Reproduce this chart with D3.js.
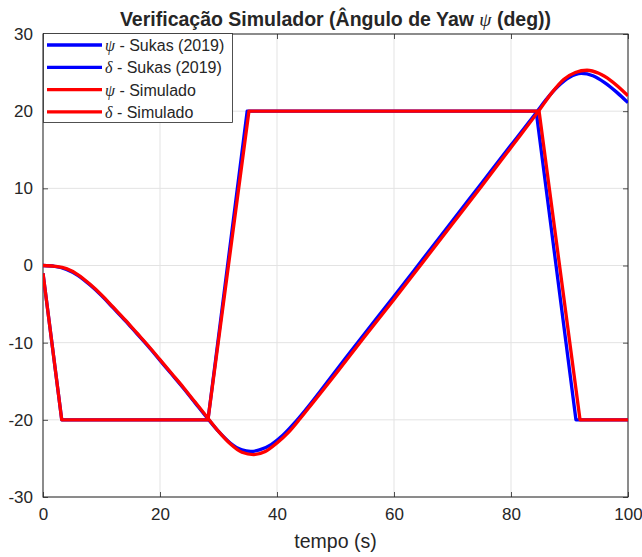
<!DOCTYPE html>
<html><head><meta charset="utf-8">
<script src="https://cdn.jsdelivr.net/npm/d3@7"></script>
<style>
html,body{margin:0;padding:0;background:#fff;}
text{font-family:"Liberation Sans",Arial,Helvetica,sans-serif;fill:#262626;}
</style></head>
<body><svg id="chart" width="642" height="557"></svg>
<script>
// ---- data ----
const psiSukasT = [0,2,4,6,8,10,12,14,16,18,20,22,24,26,28,30,32,34,35.5,37,39,41,43,45,50,55,60,65,70,75,80,84.5,86,88,90,92,94,96,98,100];
const psiSukasV = [0,-0.1,-0.5,-1.3,-2.5,-3.9,-5.5,-7.1,-8.8,-10.5,-12.3,-14.1,-15.9,-17.8,-19.7,-21.5,-23.0,-23.9,-24.1,-23.9,-23.2,-22.0,-20.4,-18.6,-13.7,-8.8,-4.0,0.9,5.8,10.7,15.6,20.0,21.5,23.2,24.4,24.9,24.6,23.7,22.5,21.1];
const deltaSukasT = [0,3.2,28.2,34.9,84.3,91.1,100];
const deltaSukasV = [-1,-20,-20,20,20,-20,-20];
const psiSimT = [0,2,4,6,8,10,12,14,16,18,20,22,24,26,28,30,32,34,36,38,40,42,44,46,50,55,60,65,70,75,80,85,87,89,91,93,95,97,100];
const psiSimV = [0,-0.1,-0.4,-1.2,-2.4,-3.8,-5.4,-7.0,-8.7,-10.4,-12.2,-14.0,-15.8,-17.7,-19.6,-21.5,-23.1,-24.2,-24.5,-24.1,-23.0,-21.6,-19.8,-17.9,-14.1,-9.2,-4.4,0.5,5.4,10.3,15.3,20.3,22.4,24.1,25.0,25.3,24.9,24.0,22.0];
const deltaSimT = [0,3.2,28.2,35.2,84.8,91.8,100];
const deltaSimV = [-1,-20,-20,20,20,-20,-20];
const xTicks = [0,20,40,60,80,100];
const yTicks = [-30,-20,-10,0,10,20,30];
const seriesNames = ["ψ|- Sukas (2019)","δ|- Sukas (2019)","ψ|- Simulado","δ|- Simulado"];
const seriesColors = ["#0000ff","#0000ff","#ff0000","#ff0000"];

// ---- layout ----
const L=43,R=628,T=34,B=497;
const svg=d3.select("#chart");
const x=d3.scaleLinear().domain([0,100]).range([L,R]);
const y=d3.scaleLinear().domain([-30,30]).range([B,T]);

// grid
const g=svg.append("g");
g.selectAll(".gx").data(xTicks).enter().append("line")
 .attr("x1",d=>x(d)).attr("x2",d=>x(d)).attr("y1",T).attr("y2",B)
 .attr("stroke","#e3e3e3").attr("stroke-width",1);
g.selectAll(".gy").data(yTicks).enter().append("line")
 .attr("y1",d=>y(d)).attr("y2",d=>y(d)).attr("x1",L).attr("x2",R)
 .attr("stroke","#e3e3e3").attr("stroke-width",1);

// axes
const fs=17;
const fmt=d=>String(d);
const xAxis=d3.axisBottom(x).tickValues(xTicks).tickFormat(fmt).tickSizeInner(-5).tickSizeOuter(0).tickPadding(11);
const yAxis=d3.axisLeft(y).tickValues(yTicks).tickFormat(fmt).tickSizeInner(-5).tickSizeOuter(0).tickPadding(10);
const ax=svg.append("g").attr("transform",`translate(0,${B})`).call(xAxis);
const ay=svg.append("g").attr("transform",`translate(${L},0)`).call(yAxis);
const axTop=svg.append("g").attr("transform",`translate(0,${T})`).call(d3.axisTop(x).tickValues(xTicks).tickSizeInner(-5).tickSizeOuter(0).tickFormat(""));
const ayR=svg.append("g").attr("transform",`translate(${R},0)`).call(d3.axisRight(y).tickValues(yTicks).tickSizeInner(-5).tickSizeOuter(0).tickFormat(""));
[ax,ay,axTop,ayR].forEach(a=>{
  a.select(".domain").remove();
  a.selectAll("line").attr("stroke","#262626").attr("stroke-width",0.8);
  a.selectAll("text").attr("font-size",fs).attr("fill","#262626").style("font-family","'Liberation Sans',Arial,sans-serif");
});
svg.append("rect").attr("x",L).attr("y",T).attr("width",R-L).attr("height",B-T)
 .attr("fill","none").attr("stroke","#262626").attr("stroke-width",1);

// lines
svg.append("clipPath").attr("id","clip").append("rect").attr("x",L).attr("y",T).attr("width",R-L).attr("height",B-T);
const series=[[psiSukasT,psiSukasV],[deltaSukasT,deltaSukasV],[psiSimT,psiSimV],[deltaSimT,deltaSimV]];
const plot=svg.append("g").attr("clip-path","url(#clip)");
series.forEach((s,i)=>{
  const pts=s[0].map((t,j)=>[t,s[1][j]]);
  const isPsi=(i%2===0);
  const line=d3.line().x(d=>x(d[0])).y(d=>y(d[1])).curve(isPsi?d3.curveMonotoneX:d3.curveLinear);
  plot.append("path").datum(pts).attr("d",line).attr("fill","none")
   .attr("stroke",seriesColors[i]).attr("stroke-width",3.3).attr("stroke-linejoin","round");
});

// legend
const lg=svg.append("g");
lg.append("rect").attr("x",43.5).attr("y",33.5).attr("width",189).attr("height",89)
 .attr("fill","#fff").attr("stroke","#262626").attr("stroke-width",0.8);
seriesNames.forEach((n,i)=>{
  const yy=45+i*22.3;
  lg.append("line").attr("x1",47).attr("x2",102).attr("y1",yy).attr("y2",yy)
   .attr("stroke",seriesColors[i]).attr("stroke-width",3.3);
  const parts=n.split("|");
  const t=lg.append("text").attr("x",105).attr("y",yy+6).attr("font-size",16).attr("fill","#000");
  t.append("tspan").text(parts[0]).style("font-family","'Liberation Serif','DejaVu Serif',serif").attr("font-style","italic");
  t.append("tspan").text(" "+parts[1]);
});

// title & label
const title=svg.append("text").attr("x",(L+R)/2).attr("y",26).attr("text-anchor","middle")
 .attr("font-size",19.5).attr("font-weight","bold").attr("fill","#000");
title.append("tspan").text("Verificação Simulador (Ângulo de Yaw ");
title.append("tspan").text("ψ").style("font-family","'Liberation Serif','DejaVu Serif',serif").attr("font-style","italic").attr("font-weight","normal");
title.append("tspan").text(" (deg))");
svg.append("text").attr("x",(L+R)/2).attr("y",548).attr("text-anchor","middle")
 .attr("font-size",19.5).attr("fill","#262626").text("tempo (s)");
</script></body></html>
